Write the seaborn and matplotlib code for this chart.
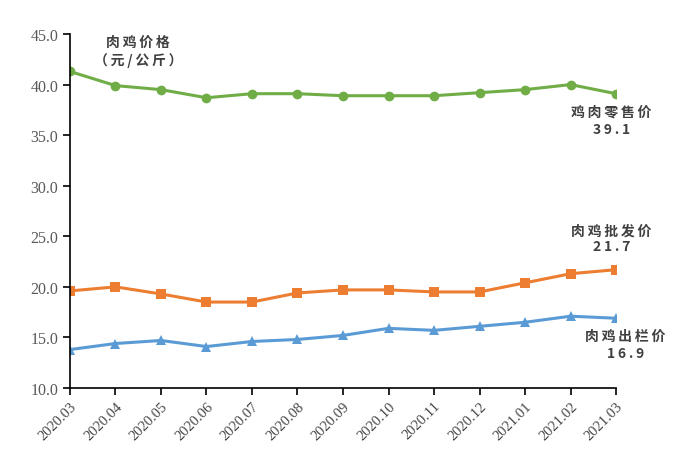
import matplotlib.pyplot as plt
import pandas as pd
import seaborn as sns

months = ["2020.03", "2020.04", "2020.05", "2020.06", "2020.07", "2020.08", "2020.09",
          "2020.10", "2020.11", "2020.12", "2021.01", "2021.02", "2021.03"]
retail = [41.3, 39.9, 39.5, 38.7, 39.1, 39.1, 38.9, 38.9, 38.9, 39.2, 39.5, 40.0, 39.1]
wholesale = [19.6, 20.0, 19.3, 18.5, 18.5, 19.4, 19.7, 19.7, 19.5, 19.5, 20.4, 21.3, 21.7]
farm = [13.8, 14.4, 14.7, 14.1, 14.6, 14.8, 15.2, 15.9, 15.7, 16.1, 16.5, 17.1, 16.9]

series_names = ["鸡肉零售价", "肉鸡批发价", "肉鸡出栏价"]
colors = {"鸡肉零售价": "#70AD47", "肉鸡批发价": "#ED7D31", "肉鸡出栏价": "#5B9BD5"}
markers = {"鸡肉零售价": "o", "肉鸡批发价": "s", "肉鸡出栏价": "^"}

rows = []
for name, vals in zip(series_names, [retail, wholesale, farm]):
    for i, v in enumerate(vals):
        rows.append({"idx": i, "month": months[i], "price": v, "series": name})
df = pd.DataFrame(rows)

sns.set_theme(style="ticks")
plt.rcParams["font.family"] = ["Liberation Serif", "DejaVu Sans"]

fig = plt.figure(figsize=(6.9, 4.56), dpi=100)
ax = fig.add_axes([0.1014, 0.1469, 0.7914, 0.7763])

sns.lineplot(data=df, x="idx", y="price", hue="series", style="series",
             palette=colors, markers=markers, dashes=False, linewidth=2.2,
             markersize=7, markeredgewidth=0, legend=False, ax=ax)

ax.set_xlim(0, len(months) - 1)
ax.set_ylim(10, 45)
yt = [10, 15, 20, 25, 30, 35, 40, 45]
ax.set_yticks(yt)
ax.set_yticklabels([f"{t:.1f}" for t in yt], fontsize=11.5, color="#595959")
ax.set_xticks(range(len(months)))
ax.set_xticklabels(months, rotation=45, ha="right", rotation_mode="anchor",
                   fontsize=10.5, color="#454545")
ax.set_xlabel("")
ax.set_ylabel("")
ax.tick_params(axis="both", direction="out", length=5, width=1.2, color="black")
ax.tick_params(axis="x", pad=3)
for side in ["top", "right"]:
    ax.spines[side].set_visible(False)
for side in ["left", "bottom"]:
    ax.spines[side].set_linewidth(1.2)
    ax.spines[side].set_color("black")


def spaced(s):
    # wide letter spacing like the original labels
    return "\u2009".join(s)


cjk = ["Noto Sans CJK SC", "DejaVu Sans"]
txt = dict(family=cjk, fontsize=10, fontweight="bold", color="#404040",
           ha="center", va="center")
ax.text(1.5, 44.2, spaced("肉鸡价格"), **txt)
ax.text(1.5, 42.5, spaced("（元/公斤）"), **txt)
ax.text(11.9, 37.3, spaced("鸡肉零售价"), **txt)
ax.text(11.9, 35.6, spaced(f"{retail[-1]:.1f}"), **txt)
ax.text(11.9, 25.6, spaced("肉鸡批发价"), **txt)
ax.text(11.9, 24.0, spaced(f"{wholesale[-1]:.1f}"), **txt)
ax.text(12.2, 15.2, spaced("肉鸡出栏价"), **txt)
ax.text(12.2, 13.5, spaced(f"{farm[-1]:.1f}"), **txt)

fig.savefig("out.png", dpi=100)
